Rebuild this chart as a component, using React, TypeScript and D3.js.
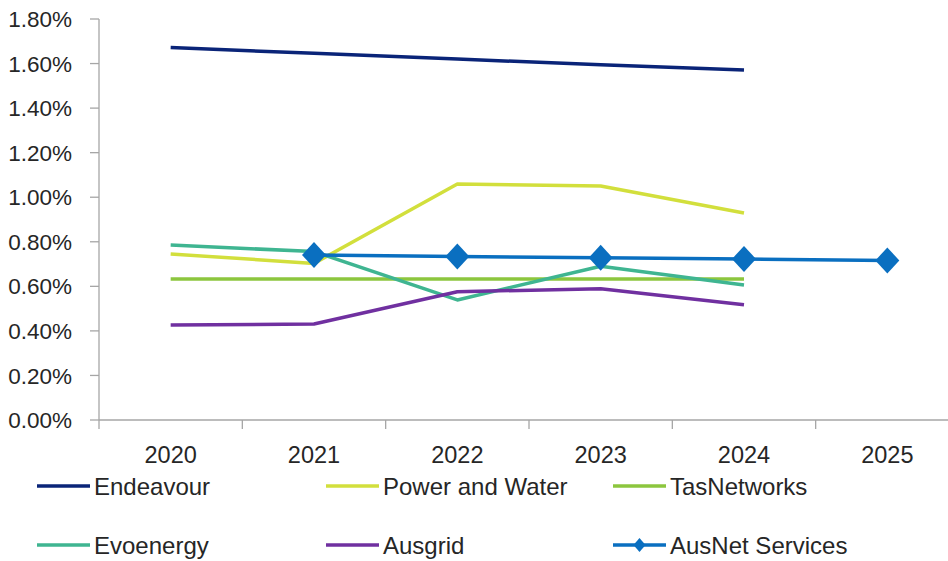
import React from 'react';
import * as d3 from 'd3';

const years = ['2020', '2021', '2022', '2023', '2024', '2025'];
const yTicks = [0, 0.2, 0.4, 0.6, 0.8, 1.0, 1.2, 1.4, 1.6, 1.8];

// values in percent, null = no data
const endeavour = [1.672, 1.646, 1.62, 1.595, 1.571, null];
const powerAndWater = [0.745, 0.703, 1.059, 1.05, 0.929, null];
const tasNetworks = [0.633, 0.633, 0.633, 0.633, 0.633, null];
const evoenergy = [0.785, 0.756, 0.539, 0.69, 0.606, null];
const ausgrid = [0.426, 0.431, 0.576, 0.589, 0.517, null];
const ausnet = [null, 0.741, 0.734, 0.728, 0.723, 0.716];

const series = [
  {name: 'Endeavour', values: endeavour, color: '#0a2478', marker: false},
  {name: 'Power and Water', values: powerAndWater, color: '#d2df3c', marker: false},
  {name: 'TasNetworks', values: tasNetworks, color: '#8cc63e', marker: false},
  {name: 'Evoenergy', values: evoenergy, color: '#3fb591', marker: false},
  {name: 'Ausgrid', values: ausgrid, color: '#7030a0', marker: false},
  {name: 'AusNet Services', values: ausnet, color: '#0a6fc0', marker: true},
];

const legendCols = [37, 326, 613];
const legendRows = [486, 545];

const App = () => {
  const left = 99, right = 959, top = 19, bottom = 420;
  const font = '"Liberation Sans", Arial, sans-serif';

  const x = d3.scaleBand().domain(years).range([left, right]);
  const y = d3.scaleLinear().domain([0, 1.8]).range([bottom, top]);
  const cx = (i: number) => x(years[i])! + x.bandwidth() / 2;

  const line = d3.line<number | null>()
    .defined(d => d != null)
    .x((_, i) => cx(i))
    .y(d => y(d as number));

  const diamond = (px: number, py: number, w = 12, h = 13) =>
    `M${px},${py - h}L${px + w},${py}L${px},${py + h}L${px - w},${py}Z`;

  const axisColor = '#a6a6a6';
  const textColor = '#262626';

  return (
    <svg width={948} height={561} style={{position: 'absolute', left: 0, top: 0, background: '#fff'}}>
      {/* y axis */}
      <line x1={left} x2={left} y1={top} y2={bottom} stroke={axisColor} strokeWidth={1.3} />
      {yTicks.map(t => (
        <g key={t}>
          <line x1={left - 9} x2={left} y1={y(t)} y2={y(t)} stroke={axisColor} strokeWidth={1.3} />
          <text x={72} y={y(t)} dy="0.36em" textAnchor="end" fontSize={22.5} fontFamily={font} fill={textColor}>
            {d3.format('.2f')(t) + '%'}
          </text>
        </g>
      ))}
      {/* x axis */}
      <line x1={left} x2={right} y1={bottom} y2={bottom} stroke={axisColor} strokeWidth={1.3} />
      {years.map((yr, i) => (
        <g key={yr}>
          <line x1={x(yr)} x2={x(yr)} y1={bottom} y2={bottom + 9} stroke={axisColor} strokeWidth={1.3} />
          <text x={cx(i)} y={463} textAnchor="middle" fontSize={23.5} fontFamily={font} fill={textColor}>{yr}</text>
        </g>
      ))}
      {/* series */}
      {series.map(s => (
        <g key={s.name}>
          <path d={line(s.values) || ''} fill="none" stroke={s.color} strokeWidth={3.5} strokeLinejoin="round" />
          {s.marker && s.values.map((v, i) => v == null ? null : (
            <path key={i} d={diamond(cx(i), y(v))} fill={s.color} />
          ))}
        </g>
      ))}
      {/* legend */}
      {series.map((s, i) => {
        const lx = legendCols[i % 3];
        const ly = legendRows[Math.floor(i / 3)];
        return (
          <g key={s.name}>
            <line x1={lx} x2={lx + 53} y1={ly} y2={ly} stroke={s.color} strokeWidth={3.5} />
            {s.marker && <path d={diamond(lx + 26.5, ly, 6, 7)} fill={s.color} />}
            <text x={lx + 57} y={ly} dy="0.36em" fontSize={24} fontFamily={font} fill={textColor}>{s.name}</text>
          </g>
        );
      })}
    </svg>
  );
};

export default App;
